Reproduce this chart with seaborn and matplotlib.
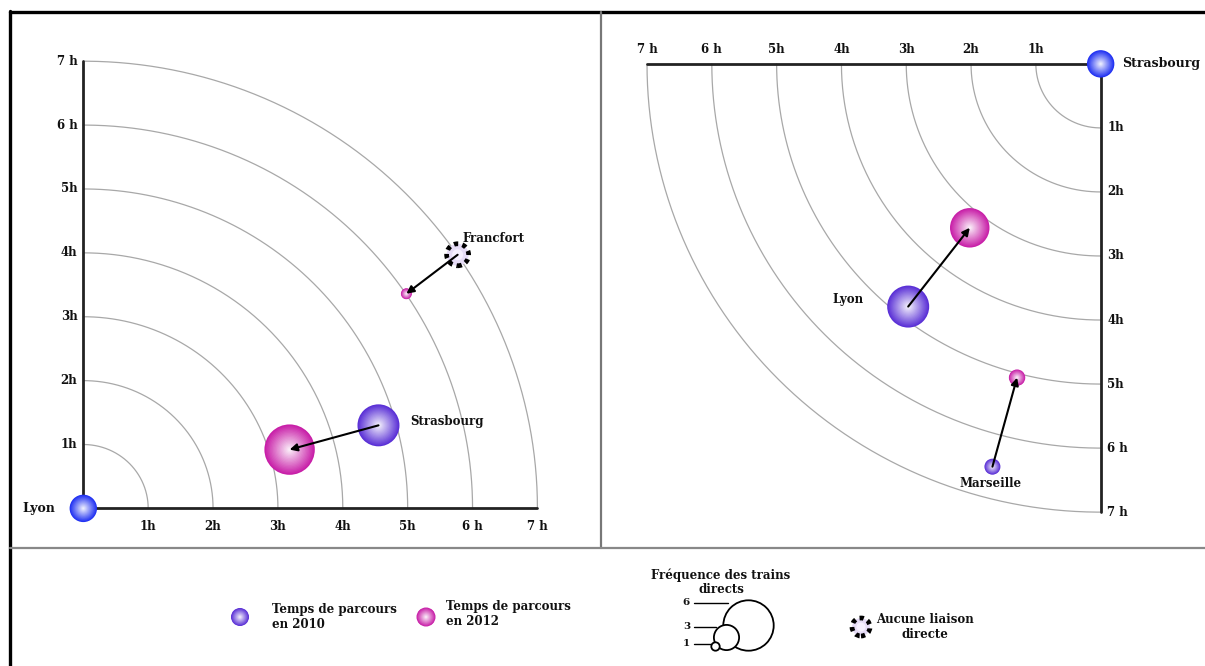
import numpy as np
import pandas as pd
import matplotlib
matplotlib.use("Agg")
import matplotlib.pyplot as plt
import seaborn as sns
from matplotlib.colors import to_rgb
from matplotlib.lines import Line2D

sns.set_theme(style="white")
plt.rcParams['font.family'] = ['DejaVu Serif']
plt.rcParams['font.weight'] = 'bold'
plt.rcParams['text.color'] = '#111111'

# ----------------- Data ------------------
hours = [1, 2, 3, 4, 5, 6, 7]
hour_labels = ["1h", "2h", "3h", "4h", "5h", "6 h", "7 h"]

# Left panel: seen from Lyon (x, y in hours)
left_cities = ["Strasbourg", "Francfort"]
left_x_2010 = [4.55, 5.77]
left_y_2010 = [1.30, 3.97]
left_x_2012 = [3.18, 4.98]
left_y_2012 = [0.92, 3.36]
left_freq_2010 = [5, 0]      # 0 = aucune liaison directe
left_freq_2012 = [6, 1.3]

# Right panel: seen from Strasbourg (x, y in hours)
right_cities = ["Lyon", "Marseille"]
right_x_2010 = [2.97, 1.67]
right_y_2010 = [3.79, 6.29]
right_x_2012 = [2.02, 1.29]
right_y_2012 = [2.56, 4.90]
right_freq_2010 = [5, 1.9]
right_freq_2012 = [4.7, 1.95]

legend_freqs = [6, 3, 1]

# ----------------- Styles ------------------
C2010 = "#5a30d6"
C2012 = "#c81fa8"
CBLUE = "#1f30f2"
PX_PER_FREQ = 4.2   # bubble radius in pixels per train


def size_from_radius(r_px):
    # scatter size (points^2) for a given radius in pixels at dpi 100
    return (2 * r_px * 0.72) ** 2


def sphere(ax, xs, ys, radii, rim, z=5):
    # radial gradient ball, drawn as stacked scatter layers
    rim = np.array(to_rgb(rim))
    white = np.array([1.0, 1.0, 1.0])
    df = pd.DataFrame({"x": xs, "y": ys})
    radii = np.asarray(radii, dtype=float)
    for f in np.linspace(1.0, 0.06, 18):
        w = (1 - f) ** 1.0 * 0.97
        col = rim * (1 - w) + white * w
        sns.scatterplot(data=df, x="x", y="y", s=size_from_radius(radii * f),
                        color=col, edgecolor="none", linewidth=0, ax=ax,
                        legend=False, zorder=z, clip_on=False)


def no_link(ax, x, y, r_px, z=5):
    df = pd.DataFrame({"x": [x], "y": [y]})
    sns.scatterplot(data=df, x="x", y="y", s=size_from_radius(r_px),
                    color="#e6dcf6", edgecolor="black", linewidth=3.4,
                    linestyle=(0, (0.9, 0.9)), ax=ax, legend=False, zorder=z,
                    clip_on=False)
    sns.scatterplot(data=df, x="x", y="y", s=size_from_radius(r_px * 0.5),
                    color="#f6f0ff", edgecolor="none", ax=ax, legend=False,
                    zorder=z + 0.1, clip_on=False)


def arcs(ax):
    t = np.linspace(0, np.pi / 2, 200)
    for h in hours:
        ax.plot(h * np.cos(t), h * np.sin(t), color="#a8a8a8", lw=0.9, zorder=1)


fig = plt.figure(figsize=(12.05, 6.66), dpi=100)
W, H = 1205, 666


def px_axes(x0, y0, x1, y1):
    return fig.add_axes([x0 / W, 1 - y1 / H, (x1 - x0) / W, (y1 - y0) / H])


# ----------------- Left panel ------------------
axl = px_axes(10, 12, 601, 548)
axl.set_xlim(-1.13, 7.98)
axl.set_ylim(-0.62, 7.77)
axl.axis("off")
arcs(axl)
axl.plot([0, 7], [0, 0], color="#222222", lw=2, zorder=2)
axl.plot([0, 0], [0, 7], color="#222222", lw=2, zorder=2)
for h, lab in zip(hours, hour_labels):
    axl.text(h, -0.29, lab, ha="center", va="center", fontsize=8.5, fontweight="bold")
    axl.text(-0.09, h, lab, ha="right", va="center", fontsize=8.5, fontweight="bold")
sphere(axl, [0], [0], [13.7], CBLUE, z=6)
axl.text(-0.68, 0, "Lyon", ha="center", va="center", fontsize=9, fontweight="bold")

sphere(axl, left_x_2010[:1], left_y_2010[:1],
       np.array(left_freq_2010[:1]) * PX_PER_FREQ, C2010)
no_link(axl, left_x_2010[1], left_y_2010[1], 11)
sphere(axl, left_x_2012, left_y_2012, np.array(left_freq_2012) * PX_PER_FREQ, C2012)
for i in range(len(left_cities)):
    axl.annotate("", xy=(left_x_2012[i], left_y_2012[i]),
                 xytext=(left_x_2010[i], left_y_2010[i]),
                 arrowprops=dict(arrowstyle="-|>", color="black", lw=1.5,
                                 mutation_scale=11, shrinkA=0, shrinkB=0),
                 zorder=8)
axl.text(5.85, 4.22, "Francfort", ha="left", va="center", fontsize=8.5, fontweight="bold")
axl.text(5.04, 1.36, "Strasbourg", ha="left", va="center", fontsize=8.5, fontweight="bold")

# ----------------- Right panel ------------------
axr = px_axes(601, 12, 1205, 548)
axr.set_xlim(7.71, -1.61)
axr.set_ylim(7.56, -0.81)
axr.axis("off")
arcs(axr)
axr.plot([0, 7], [0, 0], color="#222222", lw=2, zorder=2)
axr.plot([0, 0], [0, 7], color="#222222", lw=2, zorder=2)
for h, lab in zip(hours, hour_labels):
    axr.text(h, -0.22, lab, ha="center", va="center", fontsize=8.5, fontweight="bold")
    axr.text(-0.1, h, lab, ha="left", va="center", fontsize=8.5, fontweight="bold")
sphere(axr, [0], [0], [13.7], CBLUE, z=6)
axr.text(-0.33, 0, "Strasbourg", ha="left", va="center", fontsize=9, fontweight="bold")

sphere(axr, right_x_2010, right_y_2010, np.array(right_freq_2010) * PX_PER_FREQ, C2010)
sphere(axr, right_x_2012, right_y_2012, np.array(right_freq_2012) * PX_PER_FREQ, C2012)
for i in range(len(right_cities)):
    axr.annotate("", xy=(right_x_2012[i], right_y_2012[i]),
                 xytext=(right_x_2010[i], right_y_2010[i]),
                 arrowprops=dict(arrowstyle="-|>", color="black", lw=1.5,
                                 mutation_scale=11, shrinkA=0, shrinkB=0),
                 zorder=8)
axr.text(3.9, 3.68, "Lyon", ha="center", va="center", fontsize=8.5, fontweight="bold")
axr.text(1.7, 6.56, "Marseille", ha="center", va="center", fontsize=8.5, fontweight="bold")

# ----------------- Legend strip (pixel coordinates) ------------------
axg = px_axes(10, 548, 1205, 666)
axg.set_xlim(10, 1205)
axg.set_ylim(666, 548)
axg.axis("off")
sphere(axg, [240], [617], [9], C2010)
axg.text(272, 617, "Temps de parcours\nen 2010", ha="left", va="center",
         fontsize=8.5, fontweight="bold", linespacing=1.15)
sphere(axg, [426], [617], [9.5], C2012)
axg.text(446, 614, "Temps de parcours\nen 2012", ha="left", va="center",
         fontsize=8.5, fontweight="bold", linespacing=1.15)

axg.text(721, 582, "Fréquence des trains\ndirects", ha="center", va="center",
         fontsize=8.5, fontweight="bold", linespacing=1.15)
bottom = 650
leg_x = [748, 726, 715]
leg_r = np.array(legend_freqs) * PX_PER_FREQ
for x, r, n in zip(leg_x, leg_r, legend_freqs):
    sns.scatterplot(x=[x], y=[bottom - r], s=size_from_radius(r), color="white",
                    edgecolor="black", linewidth=1.3, ax=axg, legend=False,
                    zorder=3 + (6 - n) * 0.1)
    yy = bottom - 2 * r + (3 if n == 6 else 2)
    axg.plot([694, x - r * 0.8], [yy, yy], color="black", lw=1, zorder=2)
    axg.text(690, yy, str(n), ha="right", va="center", fontsize=7.5, fontweight="bold")

no_link(axg, 861, 627, 9)
axg.text(925, 627, "Aucune liaison\ndirecte", ha="center", va="center",
         fontsize=8.5, fontweight="bold", linespacing=1.15)

# ----------------- Frame lines ------------------
def fig_line(x0, y0, x1, y1, color, lw):
    fig.add_artist(Line2D([x0 / W, x1 / W], [1 - y0 / H, 1 - y1 / H],
                          color=color, lw=lw, transform=fig.transFigure))

fig_line(10, 12, 1205, 12, "black", 2.4)
fig_line(10, 11, 10, 666, "black", 2.4)
fig_line(601, 12, 601, 548, "#777777", 1.6)
fig_line(10, 548, 1205, 548, "#888888", 1.6)

fig.savefig("out.png", dpi=100, facecolor="white")
